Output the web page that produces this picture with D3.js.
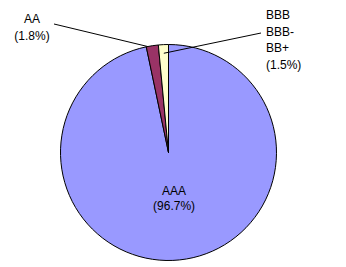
<!DOCTYPE html>
<html>
<head>
<meta charset="utf-8">
<script src="https://cdn.jsdelivr.net/npm/d3@7"></script>
<style>
  body { margin: 0; background: #fff; }
  text { font-family: Arial, "Liberation Sans", sans-serif; font-size: 12px; fill: #000; }
</style>
</head>
<body>
<div id="chart"></div>
<script>
// ratings and their share of the portfolio
var ratings = ["AAA", "AA", "BBB\nBBB-\nBB+"];
var shares = [96.7, 1.8, 1.5];
var colors = ["#9999FF", "#993366", "#FFFFCC"];

var width = 346, height = 267;
var cx = 168.5, cy = 152.5, radius = 108;

var svg = d3.select("#chart")
  .append("svg")
    .attr("width", width)
    .attr("height", height)
  .append("g")
    .attr("transform", "translate(" + cx + "," + cy + ")");

var data = ratings.map(function(r, i) {
  return {name: r, value: shares[i], color: colors[i]};
});

var pie = d3.pie()
  .sort(null)
  .value(function(d) { return d.value; });

var arc = d3.arc().innerRadius(0).outerRadius(radius);

var arcs = pie(data);

svg.selectAll("path")
  .data(arcs)
  .enter()
  .append("path")
  .attr("d", arc)
  .style("fill", function(d) { return d.data.color; })
  .style("stroke", "#000")
  .style("stroke-width", 1);

// label placement: inside for the big slice, outside with leader for small ones
// pos = label anchor (relative to centre), t = where on slice the leader ends, k = radius factor
var labelSetup = [
  {inside: true},
  {x: 32 - cx, y: 23 - cy, anchor: "middle", lx: 54 - cx, ly: 24 - cy, t: 0.12, k: 1.0},
  {x: 266 - cx, y: 19 - cy, anchor: "start", lx: 261 - cx, ly: 33 - cy, t: 0.5, k: 0.92}
];

function pointOn(d, t, k) {
  var a = d.startAngle + (d.endAngle - d.startAngle) * t;
  return [Math.sin(a) * radius * k, -Math.cos(a) * radius * k];
}

arcs.forEach(function(d, i) {
  var s = labelSetup[i];
  var lines = d.data.name.split("\n");
  lines.push("(" + d.data.value.toFixed(1) + "%)");
  var tx, ty, anchor;
  if (s.inside) {
    var c = arc.centroid(d);
    tx = c[0]; ty = c[1] - 11; anchor = "middle";
  } else {
    tx = s.x; ty = s.y; anchor = s.anchor;
    var p = pointOn(d, s.t, s.k);
    svg.append("line")
      .attr("x1", s.lx).attr("y1", s.ly)
      .attr("x2", p[0]).attr("y2", p[1])
      .style("stroke", "#000")
      .style("stroke-width", 1);
  }
  var txt = svg.append("text")
    .attr("text-anchor", anchor);
  lines.forEach(function(l, j) {
    txt.append("tspan")
      .attr("x", tx)
      .attr("y", ty + j * (s.inside ? 15 : 16.7))
      .text(l);
  });
});
</script>
</body>
</html>
